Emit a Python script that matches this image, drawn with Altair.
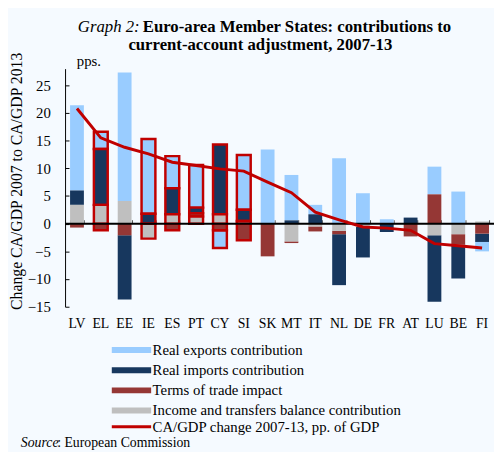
import altair as alt
import pandas as pd

countries = ["LV", "EL", "EE", "IE", "ES", "PT", "CY", "SI", "SK", "MT",
             "IT", "NL", "DE", "FR", "AT", "LU", "BE", "FI"]
income = [3.4, 3.4, 4.1, -2.7, 1.7, 1.3, 1.7, 0.5, 0.0, -3.2,
          -0.5, -1.3, -0.6, 0.0, 0.0, -2.1, -1.9, 0.4]
terms_of_trade = [-0.7, -1.2, -2.1, 0.0, -1.2, 0.6, -1.2, -3.0, -5.9, -0.3,
                  -0.9, -0.6, 0.0, 0.0, -2.3, 5.3, -1.9, -1.8]
real_imports = [2.6, 10.1, -11.6, 1.8, 4.7, 1.0, 12.6, 2.0, 0.0, 0.6,
                1.7, -9.2, -5.5, -1.5, 1.1, -12.0, -6.1, -1.5]
real_exports = [15.4, 3.1, 23.2, 13.5, 5.8, 7.7, -3.2, 9.9, 13.4, 8.2,
                1.7, 11.8, 5.5, 0.8, 0.0, 5.0, 5.8, -1.7]
ca_change = [20.8, 15.5, 13.8, 12.6, 11.1, 10.5, 9.9, 9.5, 7.5, 5.6,
             2.1, 0.7, -0.6, -0.8, -1.2, -3.6, -4.0, -4.4]
program_countries = ["EL", "IE", "ES", "PT", "CY", "SI"]

series_names = ["Real exports contribution", "Real imports contribution",
                "Terms of trade impact", "Income and transfers balance contribution"]
series_colors = ["#99CCFF", "#17375E", "#953735", "#BFBFBF"]
line_name = "CA/GDP change 2007-13, pp. of GDP"
y_ticks = [-15, -10, -5, 0, 5, 10, 15, 20, 25]

stack_rank = {
    "Income and transfers balance contribution": 0,
    "Terms of trade impact": 1,
    "Real imports contribution": 2,
    "Real exports contribution": 3,
}
series_values = {
    "Real exports contribution": real_exports,
    "Real imports contribution": real_imports,
    "Terms of trade impact": terms_of_trade,
    "Income and transfers balance contribution": income,
}

rows = []
for i, c in enumerate(countries):
    for name in series_names:
        v = series_values[name][i]
        if v != 0:
            rows.append({"country": c, "series": name, "value": v,
                         "rank": stack_rank[name],
                         "program": c in program_countries})
bars_df = pd.DataFrame(rows)
line_df = pd.DataFrame({"country": countries, "ca": ca_change,
                        "series": [line_name] * len(countries)})

FONT = "Liberation Serif"
W, H = 436, 242
Y_MIN, Y_MAX = -15, 28
ZERO_PX = H * Y_MAX / (Y_MAX - Y_MIN)

x_scale = alt.Scale(domain=countries, paddingInner=0.42, paddingOuter=0.21)
y_scale = alt.Scale(domain=[Y_MIN, Y_MAX], nice=False, zero=False)

# legend symbols: a small nominal size (so rows stay compact) with a wide path
SYM_SIZE = 36
RECT_PATH = "M-6.667,-1L6.667,-1L6.667,1L-6.667,1Z"
LINE_PATH = "M-6.667,0L6.667,0"
LEG_X = 60
LEG_OFFSET = 14

bars = alt.Chart(bars_df).mark_bar().encode(
    x=alt.X("country:N", sort=countries, scale=x_scale,
            axis=alt.Axis(orient="bottom", title=None, labelAngle=0,
                          labelFont=FONT, labelFontSize=14, labelColor="black",
                          domain=False, ticks=False, labelPadding=10, grid=False)),
    y=alt.Y("value:Q", stack="zero", scale=y_scale,
            axis=alt.Axis(orient="left", values=y_ticks,
                          title="Change CA/GDP 2007 to CA/GDP 2013",
                          titleFont=FONT, titleFontSize=16, titleFontWeight="normal",
                          titleColor="black", titleX=-41, titleY=114,
                          labelFont=FONT, labelFontSize=15, labelColor="black",
                          labelPadding=15, ticks=False, domainColor="black",
                          domainWidth=1, grid=False)),
    color=alt.Color("series:N", scale=alt.Scale(domain=series_names, range=series_colors),
                    legend=alt.Legend(orient="none", legendX=LEG_X, legendY=278.5, title=None,
                                      symbolType=RECT_PATH, symbolSize=SYM_SIZE,
                                      symbolStrokeWidth=0, labelLimit=400,
                                      labelFont=FONT, labelFontSize=15, labelColor="black",
                                      labelOffset=LEG_OFFSET, rowPadding=4.5, padding=0,
                                      symbolOpacity=1)),
    order=alt.Order("rank:Q"),
    stroke=alt.condition("datum.program", alt.value("#C00000"), alt.value("transparent")),
    strokeWidth=alt.condition("datum.program", alt.value(2.5), alt.value(0)),
)

zero_rule = alt.Chart(alt.Data(values=[{}])).mark_rule(color="black", strokeWidth=2).encode(
    y=alt.YDatum(0, type="quantitative", scale=y_scale, axis=None)
)

line = alt.Chart(line_df).mark_line(strokeWidth=3).encode(
    x=alt.X("country:N", sort=countries, scale=x_scale,
            axis=alt.Axis(orient="top", offset=-ZERO_PX, labels=False, domain=False,
                          ticks=True, tickBand="extent", tickSize=4, tickColor="#444444",
                          title=None, grid=False)),
    y=alt.Y("ca:Q", scale=y_scale,
            axis=alt.Axis(orient="right", offset=-W, labels=False, domain=False,
                          ticks=True, tickSize=4, tickColor="black", values=y_ticks,
                          title=None, grid=False)),
    stroke=alt.Stroke("series:N", scale=alt.Scale(domain=[line_name], range=["#C00000"]),
                      legend=alt.Legend(orient="none", legendX=LEG_X, legendY=356.5, title=None,
                                        symbolType=LINE_PATH, symbolSize=SYM_SIZE,
                                        symbolStrokeWidth=3, labelLimit=400,
                                        labelFont=FONT, labelFontSize=15, labelColor="black",
                                        labelOffset=LEG_OFFSET, padding=0)),
)


def txt(s, x, y, size=15, style="normal", weight="normal", align="left"):
    return alt.Chart(alt.Data(values=[{}])).mark_text(
        font=FONT, fontSize=size, fontStyle=style, fontWeight=weight,
        align=align, baseline="alphabetic", color="black"
    ).encode(x=alt.value(x), y=alt.value(y), text=alt.value(s))


texts = [
    txt("Graph 2:", 13, -37.6, size=17, style="italic"),
    txt("Euro-area Member States: contributions to", 79, -37.6, size=17, weight="bold"),
    txt("current-account adjustment, 2007-13", 198.5, -18.9, size=17, weight="bold", align="center"),
    txt("pps.", 12, -3, size=15),
    txt("Source", -45, 384.5, size=14, style="italic"),
    txt(": European Commission", -8, 384.5, size=14),
]

chart = alt.layer(bars, zero_rule, line, *texts).resolve_axis(
    x="independent", y="independent"
).resolve_legend(color="independent", stroke="independent").properties(
    width=W, height=H,
    padding={"left": 58, "top": 58, "right": 0, "bottom": 144},
    autosize=alt.AutoSizeParams(type="none"),
    background="#F5FAFF",
).configure_view(strokeWidth=0)

chart.save("out.html", embed_options={"renderer": "svg", "actions": False})
